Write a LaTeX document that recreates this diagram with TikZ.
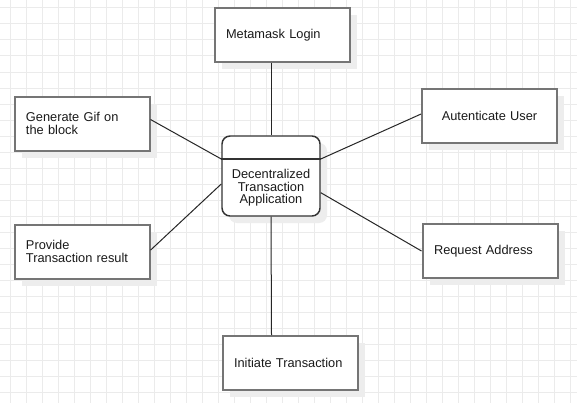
\documentclass[tikz,border=0pt]{standalone}
\usepackage{fontspec}
\setmainfont{Liberation Sans}
\usetikzlibrary{shadows,calc}
\hyphenpenalty=10000
\exhyphenpenalty=10000
\definecolor{gridgray}{HTML}{EBEBEB}
\definecolor{shadowgray}{HTML}{EDEDED}
\definecolor{boxborder}{HTML}{757575}
\definecolor{appborder}{HTML}{333333}
\definecolor{txt}{HTML}{1A1A1A}
\tikzset{
  box/.style={draw=boxborder, line width=1.5pt, fill=white, rectangle,
    minimum height=40.5pt, text width=84pt, inner xsep=8.625pt, inner ysep=0pt,
    align=left, font=\fontsize{9.6}{9.6}\selectfont, text=txt,
    general shadow={fill=shadowgray, shadow xshift=5.25pt, shadow yshift=-5.25pt}},
  appbox/.style={draw=appborder, line width=1.1pt, fill=white, rectangle, rounded corners=6pt,
    minimum width=73.5pt, minimum height=60pt, inner sep=0pt,
    general shadow={fill=shadowgray, shadow xshift=5.25pt, shadow yshift=-5.25pt}},
  conn/.style={draw=black!85, line width=0.75pt}
}
\begin{document}
\begin{tikzpicture}[x=0.75pt,y=-0.75pt]
\useasboundingbox (0,0) rectangle (577,403);
\fill[white] (0,0) rectangle (577,403);
\foreach \k in {0,...,35} \draw[gridgray, line width=0.75pt] (10.3+16*\k,0) -- (10.3+16*\k,403);
\foreach \k in {0,...,24} \draw[gridgray, line width=0.75pt] (0,8+16*\k) -- (577,8+16*\k);

\node[appbox] (app) at (271,176) {};
\node[box] (login) at (282,35) {Metamask Login};
\node[box] (gif) at (82,123.5) {Generate Gif on\\the block};
\node[box] (result) at (82,251.5) {Provide\\Transaction result};
\node[box, align=center] (auth) at (489.5,115.5) {Autenticate User};
\node[box] (req) at (490,251) {Request Address};
\node[box] (init) at (290,363) {Initiate Transaction};

\draw[appborder, line width=1.1pt] ([yshift=12.75pt]app.west) -- ([yshift=12.75pt]app.east);
\node[font=\fontsize{9.6}{9.5}\selectfont, text=txt, align=center, inner sep=0pt] (apptext) at (271,188) {Decentralized\\Transaction\\Application};

\draw[conn] (app.north |- login.south) -- (app.north);
\draw[conn] ([yshift=3pt]gif.east) -- ([yshift=12.75pt]app.west);
\draw[conn] ([yshift=1pt]result.east) -- ([yshift=-6pt]app.west);
\draw[conn] ([yshift=12.75pt]app.east) -- ([yshift=1.1pt]auth.west);
\draw[conn] ([yshift=-12.5pt]app.east) -- (req.west);
\draw[conn] (app.south) -- ([xshift=37.5pt]init.north west);
\end{tikzpicture}
\end{document}
